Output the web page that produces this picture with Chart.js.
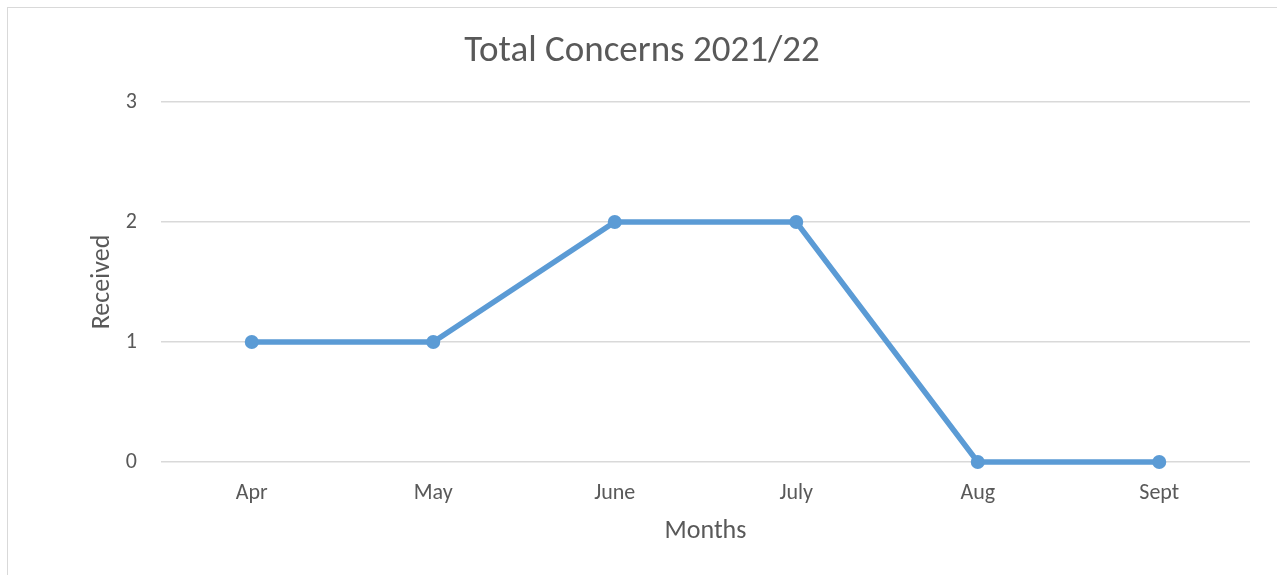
<!DOCTYPE html>
<html>
<head>
<meta charset="utf-8">
<script src="https://cdn.jsdelivr.net/npm/chart.js@4"></script>
<style>
  html, body { margin: 0; padding: 0; background: #fff; overflow: hidden; }
  #frame { position: absolute; left: 7px; top: 7px; width: 1300px; height: 600px; border: 1.5px solid #d9d9d9; }
  #wrap { position: absolute; left: 0; top: 0; width: 1277px; height: 575px; }
</style>
</head>
<body>
<div id="frame"></div>
<div id="wrap"><canvas id="concernsChart"></canvas></div>
<script>
var months = ["Apr", "May", "June", "July", "Aug", "Sept"];
var received = [1, 1, 2, 2, 0, 0];
var chartTitle = "Total Concerns 2021/22";

var fontFamily = "Carlito, Lato, sans-serif";
var textGrey = "#595959";

// title drawn by hand so it doesn't push the plot area around
var titlePlugin = {
    id: "handTitle",
    afterDraw: function (chart) {
        var ctx = chart.ctx;
        ctx.save();
        ctx.font = "37px " + fontFamily;
        ctx.fillStyle = textGrey;
        ctx.textAlign = "center";
        ctx.textBaseline = "middle";
        ctx.fillText(chartTitle, 642, 52);
        ctx.restore();
    }
};

new Chart(document.getElementById("concernsChart"), {
    type: "line",
    data: {
        labels: months,
        datasets: [
            {
                label: chartTitle,
                data: received,
                borderColor: "#5b9bd5",
                backgroundColor: "#5b9bd5",
                borderWidth: 5.5,
                pointRadius: 7,
                pointHoverRadius: 7,
                pointBackgroundColor: "#5b9bd5",
                pointBorderWidth: 0,
                tension: 0,
                clip: false
            }
        ]
    },
    options: {
        responsive: true,
        maintainAspectRatio: false,
        animation: false,
        layout: { padding: { top: 102, left: 0, right: 27, bottom: 0 } },
        plugins: {
            legend: { display: false },
            title: { display: false },
            tooltip: { enabled: false }
        },
        scales: {
            x: {
                offset: true,
                grid: { display: false, drawTicks: false },
                border: { display: false },
                ticks: { color: textGrey, font: { family: fontFamily, size: 22 }, padding: 18 },
                title: {
                    display: true,
                    text: "Months",
                    color: textGrey,
                    font: { family: fontFamily, size: 26 },
                    padding: { top: 0, bottom: 28 }
                },
                afterFit: function (scale) { scale.height = 575 - 462; }
            },
            y: {
                min: 0,
                max: 3,
                ticks: { stepSize: 1, color: textGrey, font: { family: fontFamily, size: 22 }, padding: 24 },
                grid: { color: "#d9d9d9", lineWidth: 1.5, drawTicks: false },
                border: { display: false },
                title: {
                    display: true,
                    text: "Received",
                    color: textGrey,
                    font: { family: fontFamily, size: 26 },
                    padding: { top: 87, bottom: 0 }
                },
                afterFit: function (scale) { scale.width = 161; }
            }
        }
    },
    plugins: [titlePlugin]
});
</script>
</body>
</html>
